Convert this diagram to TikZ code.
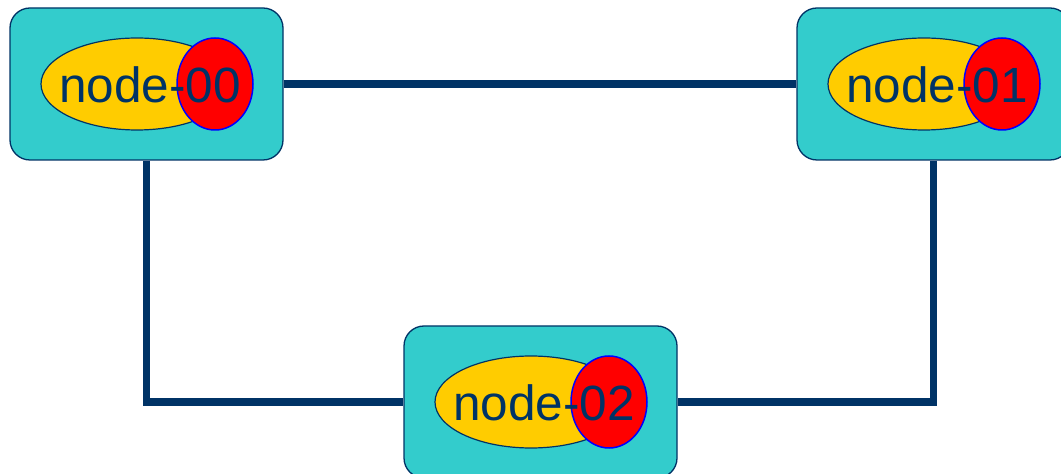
\documentclass[tikz,border=0pt]{standalone}
\usepackage{fontspec}
\setmainfont{Liberation Sans}
\usetikzlibrary{shapes.geometric}
\definecolor{navy}{RGB}{0,51,102}
\definecolor{teal}{RGB}{51,204,204}
\definecolor{gold}{RGB}{255,204,0}
\tikzset{
  hostbox/.style={draw=navy, line width=1.3pt, fill=teal, rounded corners=20pt,
    minimum width=273pt, minimum height=152pt, inner sep=0pt},
  namepill/.style={ellipse, draw=navy, line width=1.2pt, fill=gold,
    minimum width=192pt, minimum height=92pt, inner sep=0pt},
  idbubble/.style={ellipse, draw=blue, line width=1.5pt, fill=red,
    minimum width=76pt, minimum height=92pt, inner sep=0pt},
  hostlabel/.style={text=navy, font=\fontsize{49.5pt}{49.5pt}\selectfont, anchor=base, inner sep=0pt},
  link/.style={draw=navy, line width=7.5pt}
}
\newcommand{\host}[3]{%
  \node[hostbox] (b#1) at (#2,#3) {};
  \node[namepill] (y#1) at ([xshift=-9.5pt]b#1.center) {};
  \node[idbubble] (r#1) at ([xshift=68.5pt]b#1.center) {};
  \node[hostlabel] (t#1) at ([xshift=3.5pt,yshift=-19pt]b#1.center) {node-#1};
}
\begin{document}
\begin{tikzpicture}[x=1pt,y=1pt]
\useasboundingbox (0,0) rectangle (1061,474);
\clip (0,0) rectangle (1061,474);
\host{00}{146.5}{390}
\host{01}{933.5}{390}
\host{02}{540.5}{72}
\draw[link] (b00) -- (b01);
\draw[link] (b00) |- (b02);
\draw[link] (b01) |- (b02);
\end{tikzpicture}
\end{document}
